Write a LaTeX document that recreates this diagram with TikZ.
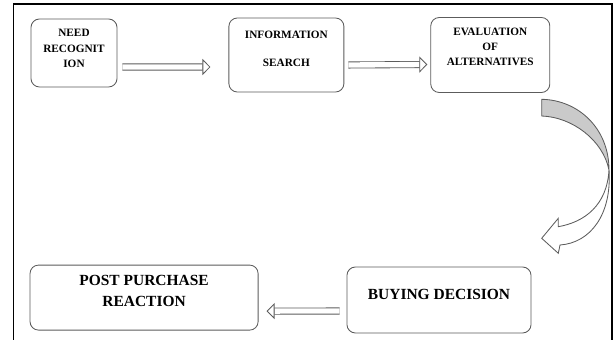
\documentclass[tikz,border=0pt]{standalone}
\usepackage{fontspec}
\setmainfont{Liberation Serif}
\usepackage{xcolor}
\usepackage{tikz}
\usetikzlibrary{positioning,arrows.meta}
\definecolor{boxline}{HTML}{5C5C5C}
\definecolor{bendfill}{HTML}{CACACA}

\begin{document}
\begin{tikzpicture}[
  x=0.025cm, y=-0.025cm,
  stage/.style={rectangle, draw=boxline, line width=0.6pt, rounded corners=6pt, fill=white},
  small/.style={font=\fontsize{8}{10.7}\selectfont\bfseries, align=center, inner sep=0pt},
  large/.style={font=\fontsize{11}{15}\selectfont\bfseries, align=center, inner sep=0pt},
  hollow/.style={draw=boxline, double=white, line width=0.6pt, double distance=3.8pt, -{Triangle[open, length=5.7pt, width=11.4pt]}},
  bendarrow/.style={draw=boxline, line width=0.6pt}
]
\useasboundingbox (0,0) rectangle (614,340);
\draw[line width=1pt] (13.3,340) -- (13.3,4) -- (612,4) -- (612,340);
\node[stage, minimum width=2.15cm, minimum height=1.7cm] (need) at (74,53) {};
\node[stage, minimum width=2.875cm, minimum height=1.85cm, right=2.775cm of need, yshift=-0.05cm] (info) {};
\node[stage, minimum width=2.975cm, minimum height=1.875cm, right=2.15cm of info] (eval) {};
\node[stage, minimum width=4.6cm, minimum height=1.65cm] (buy) at (439,300) {};
\node[stage, minimum width=5.7cm, minimum height=1.625cm, left=2.2cm of buy, yshift=0.06cm] (post) {};
\node[small, yshift=0.115cm] (needtext) at (need) {NEED\\RECOGNIT\\ION};
\node[small, yshift=0.16cm] (infotext) at (info) {INFORMATION\\[9pt]SEARCH};
\node[small, yshift=0.21cm] (evaltext) at (eval) {EVALUATION\\OF\\ALTERNATIVES};
\node[large, yshift=0.13cm] (buytext) at (buy) {BUYING DECISION};
\node[large, yshift=0.16cm] (posttext) at (post) {POST PURCHASE\\REACTION};
\draw[hollow] ([shift={(5,14)}]need.east) -- ([shift={(-18,12)}]info.west);
\draw[hollow] ([shift={(4,10)}]info.east) -- ([shift={(-3,9.5)}]eval.west);
\draw[hollow] ([shift={(-7,11)}]buy.west) -- ([shift={(8,13.5)}]post.east);
\filldraw[bendarrow, fill=bendfill] (541.7,99.3) .. controls (578,100) and (609,128) .. (609,170) .. controls (603,140) and (572,117) .. (541.7,116) -- cycle;
\filldraw[bendarrow, fill=white] (609,170) .. controls (607,205) and (585,222) .. (558.3,226.7) -- (558.3,218.3) -- (541.7,238.3) -- (558.3,253.3) -- (560,245) .. controls (590,243) and (612,215) .. (609,170) -- cycle;
\end{tikzpicture}
\end{document}
